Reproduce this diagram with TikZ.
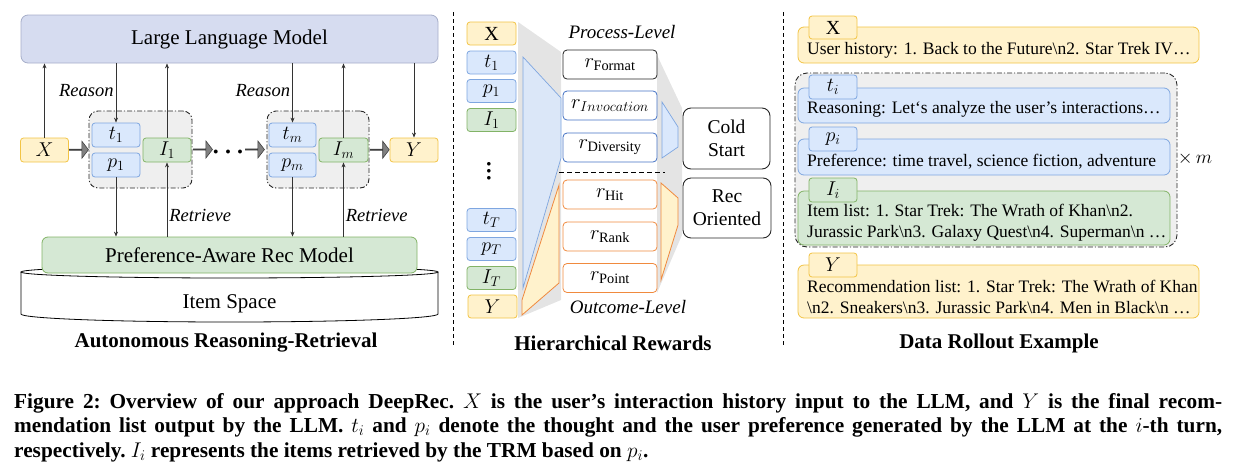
\RequirePackage{fix-cm}
\documentclass[tikz,border=0pt]{standalone}
\usepackage{amsmath}
\usepackage{fontspec}
\setmainfont{Liberation Serif}
\usetikzlibrary{arrows.meta,shapes.arrows,calc}
\newcommand{\myfs}[1]{\fontsize{#1}{#1}\selectfont}
\definecolor{llmF}{HTML}{D6DCF0}
\definecolor{llmD}{HTML}{A6AEC9}
\definecolor{yF}{HTML}{FFF2CC}
\definecolor{yD}{HTML}{F2C445}
\definecolor{bF}{HTML}{DAE8FC}
\definecolor{bD}{HTML}{7EA6E0}
\definecolor{gF}{HTML}{D5E8D4}
\definecolor{gD}{HTML}{82B366}
\definecolor{grpF}{HTML}{EFEFEF}
\definecolor{rbD}{HTML}{4472C4}
\definecolor{oD}{HTML}{F08A3E}
\definecolor{arrC}{HTML}{333333}
\definecolor{funG}{HTML}{E4E4E4}
\tikzset{
  base/.style={rounded corners=3pt, line width=0.8pt, inner sep=0pt, font=\myfs{20}},
  ybox/.style={base, fill=yF, draw=yD},
  bbox/.style={base, fill=bF, draw=bD},
  gbox/.style={base, fill=gF, draw=gD},
  sbox/.style={minimum width=48pt, minimum height=24pt},
  grp/.style={rounded corners=9pt, fill=grpF, draw=black!85, line width=0.9pt,
    dash pattern=on 5pt off 2pt on 1.2pt off 2pt, inner sep=0pt},
  arr/.style={draw=arrC, line width=0.7pt, -{Stealth[length=5pt,width=4pt]}},
  lbl/.style={font=\myfs{18.5}\itshape, inner sep=2pt},
  fat/.style={single arrow, draw=black!75, fill=black!50, line width=0.6pt,
    inner sep=0pt, minimum width=17pt, single arrow head extend=4.5pt,
    single arrow tip angle=105, minimum height=19pt},
  rwd/.style={base, fill=white, rounded corners=4pt, minimum width=94pt, minimum height=29pt, font=\myfs{20.5}},
  bigbox/.style={base, fill=white, draw=black!85, rounded corners=8pt, line width=0.9pt, align=center, font=\fontsize{19.5}{23}\selectfont},
  sep/.style={line width=0.9pt, dash pattern=on 4pt off 3pt},
  title/.style={font=\bfseries\myfs{21}, inner sep=0pt},
  rtxt/.style={anchor=west, inner sep=0pt, align=left, font=\fontsize{17.5}{21}\selectfont},
  tab/.style={minimum width=48pt, minimum height=24pt, rounded corners=3pt},
  caption/.style={anchor=base west, inner sep=0pt, font=\bfseries\fontsize{21.3}{24}\selectfont\frenchspacing}
}
\begin{document}
\begin{tikzpicture}[x=1pt,y=-1pt]
\useasboundingbox (0,0) rectangle (1236,472);

% ---------------- left panel ----------------
\draw[line width=0.8pt, fill=white] (21,272) -- (21,314)
  arc[start angle=180, end angle=0, x radius=208.5, y radius=8] -- (438,272);
\draw[line width=0.8pt, fill=white] (229.5,272) ellipse[x radius=208.5, y radius=6];
\node[font=\myfs{21}, inner sep=0pt] (items) at (229.5,304) {Item Space};

\node[base, fill=llmF, draw=llmD, rounded corners=7pt, minimum width=417pt,
  minimum height=48pt, font=\myfs{21}] (llm) at (229.5,39) {Large Language Model};
\node[base, fill=gF, draw=gD, rounded corners=6pt, minimum width=375pt,
  minimum height=36pt, font=\myfs{21}] (rec) at (229.5,255) {Preference-Aware Rec Model};

\node[ybox, sbox] (X) at (44.5,150) {$X$};
\node[grp, minimum width=103pt, minimum height=77pt] (g1) at (140.5,149.5) {};
\node[bbox, sbox] (t1) at (116,135) {$t_1$};
\node[bbox, sbox] (p1) at (116,165) {$p_1$};
\node[gbox, sbox] (I1) at (167,150) {$I_1$};
\node[inner sep=0pt, minimum width=27pt] (dots) at (228,152) {$\bullet\hspace{5pt}\bullet\hspace{5pt}\bullet$};
\node[grp, minimum width=102pt, minimum height=77pt] (gm) at (318,149.5) {};
\node[bbox, sbox, minimum width=47pt] (tm) at (292.5,135) {$t_m$};
\node[bbox, sbox, minimum width=47pt] (pm) at (292.5,165) {$p_m$};
\node[gbox, sbox, minimum width=49pt] (Im) at (343.5,150) {$I_m$};
\node[ybox, sbox] (Y) at (414,150) {$Y$};

\path (X.east) -- node[fat]{} (g1.west);
\path (g1.east) -- node[fat]{} (dots.west |- g1.east);
\path (dots.east |- gm.west) -- node[fat]{} (gm.west);
\path (gm.east) -- node[fat]{} (Y.west);

\draw[arr] (X.north) -- (X.north |- llm.south);
\draw[arr] (t1.north |- llm.south) -- node[lbl, left, pos=0.45] (rs1) {Reason} (t1.north);
\draw[arr] (I1.north) -- (I1.north |- llm.south);
\draw[arr] (I1.south |- rec.north) -- node[lbl, right, pos=0.28] (rt1) {Retrieve} (I1.south);
\draw[arr] (p1.south) -- (p1.south |- rec.north);
\draw[arr] (tm.north |- llm.south) -- node[lbl, left, pos=0.45] (rs2) {Reason} (tm.north);
\draw[arr] (Im.north) -- (Im.north |- llm.south);
\draw[arr] (Im.south |- rec.north) -- node[lbl, right, pos=0.28] (rt2) {Retrieve} (Im.south);
\draw[arr] (pm.south) -- (pm.south |- rec.north);
\draw[arr] (Y.north |- llm.south) -- (Y.north);

\node[title] (tl) at (226,343) {Autonomous Reasoning-Retrieval};

% separators
\draw[sep] (453,12) -- (453,345);
\draw[sep] (783,12) -- (783,345);

% ---------------- middle panel ----------------
\fill[funG] (518,22) -- (561,52) -- (561,300) -- (518,318) -- cycle;
\fill[funG] (657,55) -- (682,108) -- (682,235) -- (657,293) -- cycle;
\draw[bD, line width=0.7pt, fill=bF, fill opacity=0.85] (523,57) -- (561,98) -- (561,158) -- (523,288) -- cycle;
\draw[oD, line width=0.8pt, fill=yF] (522,300) -- (559,185) -- (559,283) -- (522,315) -- cycle;
\draw[bD, line width=0.7pt, fill=bF] (662,102) -- (678,127) -- (678,147) -- (662,158) -- cycle;
\draw[oD, line width=0.8pt, fill=yF] (661,183) -- (678,198) -- (678,225) -- (661,280) -- cycle;

\node[ybox, minimum width=49pt, minimum height=23pt] (mX) at (491.5,33.5) {X};
\node[bbox, minimum width=49pt, minimum height=23pt] (mt1) at (491.5,62.5) {$t_1$};
\node[bbox, minimum width=49pt, minimum height=23pt] (mp1) at (491.5,91) {$p_1$};
\node[gbox, minimum width=49pt, minimum height=23pt] (mI1) at (491.5,120) {$I_1$};
\node[inner sep=0pt, font=\fontsize{9}{11.5}\selectfont] (vd) at (489,171.5) {\shortstack{$\bullet$\\$\bullet$\\$\bullet$}};
\node[bbox, minimum width=49pt, minimum height=23pt] (mtT) at (491.5,220) {$t_T$};
\node[bbox, minimum width=49pt, minimum height=23pt] (mpT) at (491.5,249) {$p_T$};
\node[gbox, minimum width=49pt, minimum height=23pt] (mIT) at (491.5,278) {$I_T$};
\node[ybox, minimum width=49pt, minimum height=23pt] (mY) at (492.5,306.5) {$Y$};

\node[lbl, font=\myfs{19}\itshape] (pl) at (622,32) {Process-Level};
\node[rwd, draw=black!85] (rF) at (610,64.5) {$r_{\text{Format}}$};
\node[rwd, draw=rbD] (rI) at (610,105.5) {$r_{Invocation}$};
\node[rwd, draw=rbD] (rD) at (610,147.5) {$r_{\text{Diversity}}$};
\draw[line width=0.9pt, dash pattern=on 5pt off 3pt] (559,172) -- (665,172);
\node[rwd, draw=oD] (rH) at (610,194.5) {$r_{\text{Hit}}$};
\node[rwd, draw=oD] (rR) at (610,236.5) {$r_{\text{Rank}}$};
\node[rwd, draw=oD] (rP) at (610,278) {$r_{\text{Point}}$};
\node[lbl, font=\myfs{19}\itshape] (ol) at (628,307) {Outcome-Level};

\node[bigbox, minimum width=87pt, minimum height=61pt] (cold) at (726.5,138.5) {Cold\\Start};
\node[bigbox, minimum width=88pt, minimum height=60pt] (reco) at (727,208) {Rec\\Oriented};

\node[title] (tm2) at (613,343) {Hierarchical Rewards};

% ---------------- right panel ----------------
\node[ybox, minimum width=401pt, minimum height=36pt, rounded corners=6pt] (rX) at (998.5,45) {};
\node[ybox, tab, minimum height=23pt] (rXt) at (833,27.5) {X};
\node[rtxt] (rXs) at (807,50) {User history: 1. Back to the Future\textbackslash n2. Star Trek IV…};

\node[grp, minimum width=382pt, minimum height=174pt, rounded corners=12pt] (rg) at (986,160) {};
\node[bbox, minimum width=372pt, minimum height=35pt, rounded corners=6pt] (rt) at (984,105.5) {};
\node[bbox, tab] (rtt) at (833,87) {$t_i$};
\node[rtxt] (rts) at (807,109) {Reasoning: Let‘s analyze the user’s interactions…};

\node[bbox, minimum width=372pt, minimum height=36pt, rounded corners=6pt] (rp) at (984,157) {};
\node[bbox, tab] (rpt) at (833,139) {$p_i$};
\node[rtxt] (rps) at (807,162) {Preference: time travel, science fiction, adventure};

\node[gbox, minimum width=372pt, minimum height=54pt, rounded corners=6pt] (ri) at (984,218) {};
\node[gbox, tab] (rit) at (833,190) {$I_i$};
\node[rtxt] (ris) at (807,222.5) {Item list: 1. Star Trek: The Wrath of Khan\textbackslash n2.\\Jurassic Park\textbackslash n3. Galaxy Quest\textbackslash n4. Superman\textbackslash n …};

\node[font=\myfs{19}, inner sep=0pt] (xm) at (1195,159) {$\times\, m$};

\node[ybox, minimum width=401pt, minimum height=53pt, rounded corners=6pt] (ry) at (998.5,291.5) {};
\node[ybox, tab] (ryt) at (833,265) {$Y$};
\node[rtxt] (rys) at (807,296.5) {Recommendation list: 1. Star Trek: The Wrath of Khan\\\textbackslash n2. Sneakers\textbackslash n3. Jurassic Park\textbackslash n4. Men in Black\textbackslash n …};

\node[title] (tr) at (999,343) {Data Rollout Example};

% ---------------- caption ----------------
\node[caption] (cap1) at (14,408) {\makebox[1208pt][s]{Figure 2: Overview of our approach DeepRec. $X$ is the user’s interaction history input to the LLM, and $Y$ is the final recom-}};
\node[caption] (cap2) at (14,432.5) {\makebox[1208pt][s]{mendation list output by the LLM. $t_i$ and $p_i$ denote the thought and the user preference generated by the LLM at the $i$-th turn,}};
\node[caption] (cap3) at (14,457) {respectively. $I_i$ represents the items retrieved by the TRM based on $p_i$.};
\end{tikzpicture}
\end{document}
